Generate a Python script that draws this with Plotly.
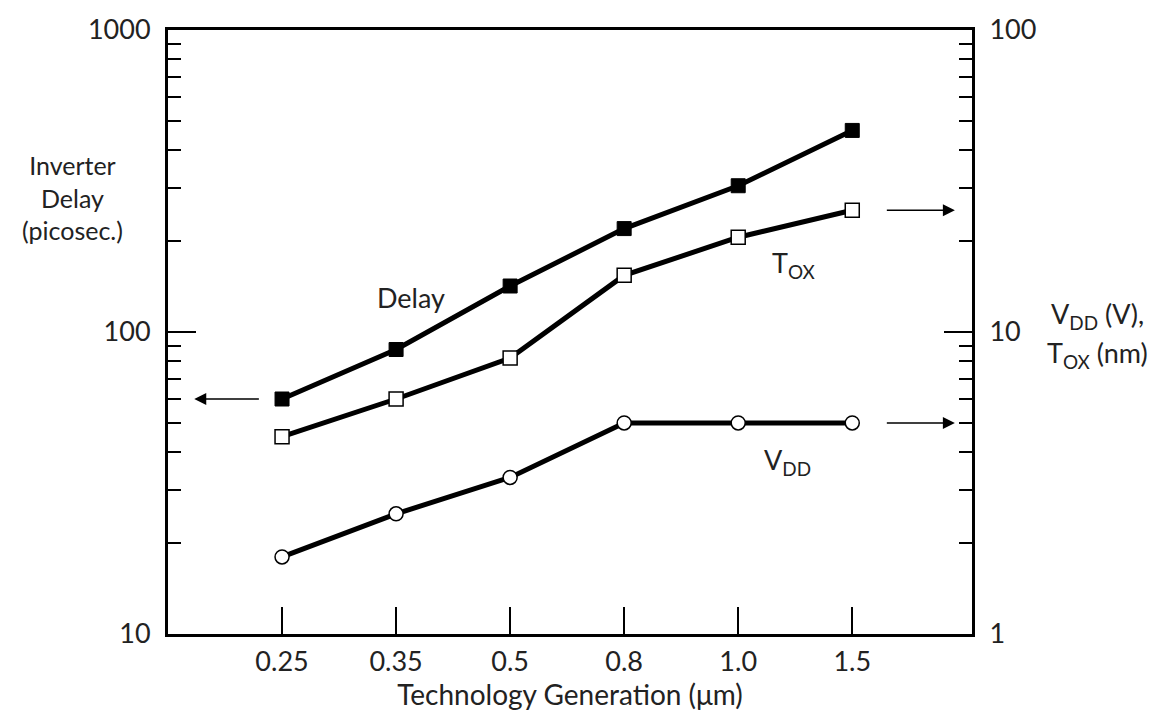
import plotly.graph_objects as go

generations = ["0.25", "0.35", "0.5", "0.8", "1.0", "1.5"]
delay_ps = [60, 87.5, 142, 220, 305, 465]
tox_nm = [4.5, 6.0, 8.2, 15.4, 20.6, 25.3]
vdd_v = [1.8, 2.5, 3.3, 5.0, 5.0, 5.0]

left_major = [10, 100, 1000]
left_minor = [m * d for d in (10, 100) for m in range(2, 10)]
right_major = [1, 10, 100]
right_minor = [m * d for d in (1, 10) for m in range(2, 10)]

FONT = "Lato"
FS = 27
TXT = "#222"
xi = list(range(len(generations)))

fig = go.Figure()
line = dict(color="black", width=5)
fig.add_trace(go.Scatter(x=xi, y=delay_ps, mode="lines+markers", line=line,
                         marker=dict(symbol="square", size=14, color="black",
                                     line=dict(color="black", width=1)),
                         yaxis="y", showlegend=False))
fig.add_trace(go.Scatter(x=xi, y=tox_nm, mode="lines+markers", line=line,
                         marker=dict(symbol="square", size=14, color="white",
                                     line=dict(color="black", width=1.5)),
                         yaxis="y2", showlegend=False))
fig.add_trace(go.Scatter(x=xi, y=vdd_v, mode="lines+markers", line=line,
                         marker=dict(symbol="circle", size=14, color="white",
                                     line=dict(color="black", width=1.5)),
                         yaxis="y2", showlegend=False))

axis_common = dict(showgrid=False, zeroline=False, linecolor="black",
                   linewidth=3, ticks="inside", tickcolor="black",
                   tickfont=dict(family=FONT, size=FS, color=TXT))

fig.update_layout(
    width=1170, height=717,
    margin=dict(l=168, r=198, t=25, b=83),
    paper_bgcolor="white", plot_bgcolor="white",
    font=dict(family=FONT, size=FS, color=TXT),
    xaxis=dict(**axis_common, tickmode="array", tickvals=xi, ticktext=generations,
               range=[-1.0, 6.05], ticklen=27, tickwidth=1.5, mirror=True,
               ticklabelstandoff=2,
               title=dict(text="Technology Generation (\u03bcm)",
                          font=dict(family=FONT, size=28, color=TXT), standoff=4)),
    yaxis=dict(**axis_common, type="log", range=[1, 3], tickvals=left_major,
               ticktext=[str(v) for v in left_major], ticklen=28, tickwidth=1.5,
               ticklabelstandoff=9,
               minor=dict(tickvals=left_minor, ticks="inside", ticklen=13,
                          tickwidth=2, tickcolor="black", showgrid=False)),
    yaxis2=dict(**axis_common, type="log", range=[0, 2], overlaying="y",
                side="right", tickvals=right_major,
                ticktext=[str(v) for v in right_major], ticklen=28, tickwidth=1.5,
                ticklabelstandoff=9,
                minor=dict(tickvals=right_minor, ticks="inside", ticklen=13,
                           tickwidth=2, tickcolor="black", showgrid=False)),
)

def paper_text(text, x, y, size=28):
    return dict(text=text, xref="paper", yref="paper", x=x, y=y,
                xanchor="center", yanchor="middle", showarrow=False,
                font=dict(family=FONT, size=size, color=TXT))

annos = [
    paper_text("Inverter<br>Delay<br>(picosec.)", -0.1194, 0.7225, 25),
    paper_text("V<sub>DD</sub> (V),", 1.1567, 0.527, 27),
    paper_text("T<sub>OX</sub> (nm)", 1.1567, 0.463, 27),
    dict(text="Delay", x=1.13, y=2.113, xref="x", yref="y", showarrow=False,
         xanchor="center", yanchor="middle",
         font=dict(family=FONT, size=FS, color=TXT)),
    dict(text="T<sub>OX</sub>", x=4.49, y=1.222, xref="x", yref="y2",
         showarrow=False, xanchor="center", yanchor="middle",
         font=dict(family=FONT, size=FS, color=TXT)),
    dict(text="V<sub>DD</sub>", x=4.43, y=0.571, xref="x", yref="y2",
         showarrow=False, xanchor="center", yanchor="middle",
         font=dict(family=FONT, size=FS, color=TXT)),
    # arrows
    dict(x=-0.77, y=1.778, ax=-0.19, ay=1.778, xref="x", yref="y", axref="x",
         ayref="y", text="", showarrow=True, arrowhead=2, arrowsize=1.6,
         arrowwidth=1.5, arrowcolor="black"),
    dict(x=5.9, y=1.403, ax=5.29, ay=1.403, xref="x", yref="y2", axref="x",
         ayref="y2", text="", showarrow=True, arrowhead=2, arrowsize=1.6,
         arrowwidth=1.5, arrowcolor="black"),
    dict(x=5.9, y=0.699, ax=5.29, ay=0.699, xref="x", yref="y2", axref="x",
         ayref="y2", text="", showarrow=True, arrowhead=2, arrowsize=1.6,
         arrowwidth=1.5, arrowcolor="black"),
]
fig.update_layout(annotations=annos)

fig.write_html("out.html")
